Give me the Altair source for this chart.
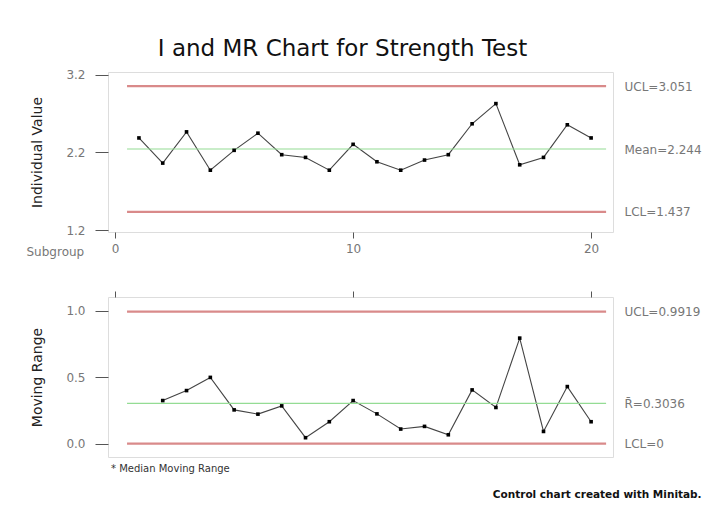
import altair as alt
import pandas as pd

# ---------------- data ----------------
subgroup = list(range(1, 21))
individual = [2.386, 2.063, 2.464, 1.972, 2.227, 2.447, 2.171, 2.136, 1.972, 2.304,
              2.080, 1.972, 2.102, 2.171, 2.568, 2.827, 2.041, 2.136, 2.555, 2.386]

mr_subgroup = list(range(2, 21))
moving_range = [0.324, 0.399, 0.498, 0.254, 0.222, 0.284, 0.045, 0.165, 0.324, 0.224,
                0.110, 0.130, 0.067, 0.404, 0.272, 0.793, 0.092, 0.429, 0.165]

i_limit_labels = ["UCL=3.051", "Mean=2.244", "LCL=1.437"]
i_limit_values = [3.051, 2.244, 1.437]
mr_limit_labels = ["UCL=0.9919", "R\u0304=0.3036", "LCL=0"]
mr_limit_values = [0.9919, 0.3036, 0.0]
limit_kinds = ["limit", "center", "limit"]

x_ticks = [0, 10, 20]
i_ticks = [1.2, 2.2, 3.2]
mr_ticks = [0.0, 0.5, 1.0]

x_domain = [-0.3, 20.92]
i_domain = [1.178, 3.233]
mr_domain = [-0.10, 1.102]
line_start, line_end = 0.5, 20.63

FONT = "DejaVu Sans"
RED = "#d98a8a"
GREEN = "#94dc94"

i_df = pd.DataFrame({"Subgroup": subgroup, "Value": individual})
mr_df = pd.DataFrame({"Subgroup": mr_subgroup, "Value": moving_range})
i_lim = pd.DataFrame({"value": i_limit_values, "label": i_limit_labels, "kind": limit_kinds,
                      "x0": line_start, "x1": line_end})
mr_lim = pd.DataFrame({"value": mr_limit_values, "label": mr_limit_labels, "kind": limit_kinds,
                       "x0": line_start, "x1": line_end})


def label_expr(values, labels):
    parts = [f"datum.value == {v} ? '{l}'" for v, l in zip(values, labels)]
    return " : ".join(parts) + " : ''"


def panel(df, lim, ydomain, yticks, ytitle, top_axis):
    xscale = alt.Scale(domain=x_domain, nice=False, zero=False)
    yscale = alt.Scale(domain=ydomain, nice=False, zero=False)
    if top_axis:
        xaxis = alt.Axis(orient="top", values=x_ticks, labels=False, tickSize=6,
                         tickColor="#555", domain=False, grid=False, title=None)
    else:
        xaxis = alt.Axis(values=x_ticks, tickSize=6, tickColor="#555", labelColor="#777",
                         labelFontSize=12, labelFont=FONT, labelPadding=5, domain=False,
                         grid=False, title="Subgroup", titleX=-82, titleY=19,
                         titleAlign="left", titleBaseline="middle", titleFont=FONT,
                         titleFontSize=12, titleFontWeight="normal", titleColor="#777",
                         labelFlush=False)
    left_axis = alt.Axis(orient="left", values=yticks, format=".1f", tickSize=13,
                         tickColor="#555", labelColor="#777", labelFontSize=12,
                         labelFont=FONT, labelPadding=10, domain=False, grid=False,
                         title=ytitle, titleFont=FONT, titleFontSize=14,
                         titleFontWeight="normal", titleColor="#222", titlePadding=21,
                         labelFlush=False)
    right_axis = alt.Axis(orient="right", values=list(lim["value"]),
                          labelExpr=label_expr(lim["value"], lim["label"]),
                          ticks=False, domain=False, grid=False, labelColor="#777",
                          labelFontSize=12, labelFont=FONT, labelPadding=11,
                          labelOverlap=False, labelFlush=False, title=None)

    rules = alt.Chart(lim).mark_rule().encode(
        x=alt.X("x0:Q", scale=xscale, axis=xaxis),
        x2="x1:Q",
        y=alt.Y("value:Q", scale=yscale, axis=right_axis),
        color=alt.Color("kind:N", scale=alt.Scale(domain=["limit", "center"], range=[RED, GREEN]),
                        legend=None),
        size=alt.Size("kind:N", scale=alt.Scale(domain=["limit", "center"], range=[2.2, 1.2]),
                      legend=None),
    )
    line = alt.Chart(df).mark_line(color="#444", strokeWidth=1.1).encode(
        x=alt.X("Subgroup:Q", scale=xscale),
        y=alt.Y("Value:Q", scale=yscale, axis=left_axis),
    )
    pts = alt.Chart(df).mark_square(color="#000", size=13, opacity=1).encode(
        x=alt.X("Subgroup:Q", scale=xscale),
        y=alt.Y("Value:Q", scale=yscale, axis=None),
    )
    return alt.layer(line, rules, pts).resolve_axis(y="independent").properties(
        width=505, height=160)


top = panel(i_df, i_lim, i_domain, i_ticks, "Individual Value", False).properties(
    title=alt.TitleParams("I and MR Chart for Strength Test", font=FONT, fontSize=23,
                          fontWeight="normal", color="#111", anchor="middle",
                          frame="group", dx=-18, offset=8))
bottom = panel(mr_df, mr_lim, mr_domain, mr_ticks, "Moving Range", True).properties(
    title=alt.TitleParams("* Median Moving Range", orient="bottom", anchor="start",
                          frame="group", font=FONT, fontSize=10, fontWeight="normal",
                          color="#333", dx=3, offset=7))

chart = alt.vconcat(top, bottom, spacing=32).properties(
    title=alt.TitleParams("Control chart created with Minitab.", orient="bottom",
                          anchor="end", frame="bounds", font=FONT, fontSize=10.5,
                          fontWeight="bold", color="#111", offset=15),
    padding={"left": 17, "top": 29, "right": 5, "bottom": 5},
).configure_view(stroke="#555", strokeWidth=1.5, fill="white").configure(
    background="white")

chart.save("out.html", embed_options={"renderer": "svg", "actions": False})
